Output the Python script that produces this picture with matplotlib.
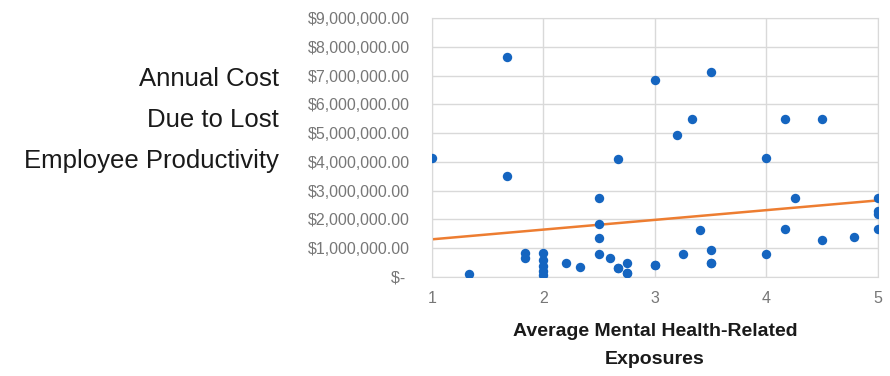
import numpy as np
import matplotlib.pyplot as plt
from matplotlib.ticker import FuncFormatter

# average exposures per respondent and the yearly cost attached to them
# (a few respondents share the same low values, so some dots sit on top of each other)
exposures = [1.67, 3.0, 3.5, 3.33, 3.2, 4.17, 4.5, 1.0, 2.67, 4.0, 1.67,
             1.33, 1.83, 1.83, 2.0, 2.0, 2.0, 2.0, 2.0, 2.2, 2.33,
             2.5, 2.5, 2.5, 2.5, 2.6, 2.67, 2.75, 2.75, 3.0, 3.25, 3.4, 3.5, 3.5,
             4.26, 4.17, 4.0, 4.5, 4.79, 5.0, 5.0, 5.0, 5.0,
             2.75, 3.0, 3.5, 2.67]
cost = [7.65e6, 6.86e6, 7.11e6, 5.49e6, 4.95e6, 5.49e6, 5.49e6, 4.12e6, 4.10e6, 4.12e6, 3.52e6,
        0.10e6, 0.84e6, 0.65e6, 0.84e6, 0.59e6, 0.38e6, 0.22e6, 0.07e6, 0.48e6, 0.34e6,
        2.73e6, 1.84e6, 1.34e6, 0.80e6, 0.65e6, 0.30e6, 0.50e6, 0.13e6, 0.42e6, 0.80e6, 1.63e6, 0.94e6, 0.50e6,
        2.73e6, 1.66e6, 0.80e6, 1.28e6, 1.38e6, 2.73e6, 2.30e6, 2.18e6, 1.66e6,
        0.13e6, 0.42e6, 0.50e6, 0.30e6]

x = np.array(exposures)
y = np.array(cost)

fig = plt.figure(figsize=(8.9, 3.76), dpi=100)
ax = fig.add_axes([0.4854, 0.2633, 0.501, 0.689])

ax.scatter(x, y, s=46, color='#1565c0', zorder=3, linewidths=0)

# linear trend
k, b = np.polyfit(x, y, 1)
xt = np.array([1, 5])
ax.plot(xt, k * xt + b, color='#ed7d31', lw=1.8, zorder=2)

ax.set_xlim(1, 5)
ax.set_ylim(0, 9e6)
ax.set_xticks([1, 2, 3, 4, 5])
ax.set_yticks(np.arange(0, 9.01e6, 1e6))

def money(v, pos):
    if v == 0:
        return '$- '
    return '${:,.2f}'.format(v)

ax.yaxis.set_major_formatter(FuncFormatter(money))
ax.grid(True, color='#d9d9d9', lw=1)
ax.set_axisbelow(True)
for s in ax.spines.values():
    s.set_color('#d9d9d9')
ax.tick_params(length=0, colors='#777777', labelsize=11.5)
for t in ax.get_yticklabels() + ax.get_xticklabels():
    t.set_fontfamily('Liberation Sans')
ax.tick_params(axis='y', pad=16)
ax.tick_params(axis='x', pad=10)

ax.set_xlabel('Average Mental Health-Related\nExposures', fontsize=14,
              fontweight='bold', family='Liberation Sans', color='#1a1a1a',
              labelpad=12, linespacing=1.9)

fig.text(0.3135, 0.68, 'Annual Cost\nDue to Lost\nEmployee Productivity', ha='right',
         va='center', fontsize=18.5, family='Liberation Sans', color='#1a1a1a',
         linespacing=1.9)

fig.savefig('out.png', dpi=100)
